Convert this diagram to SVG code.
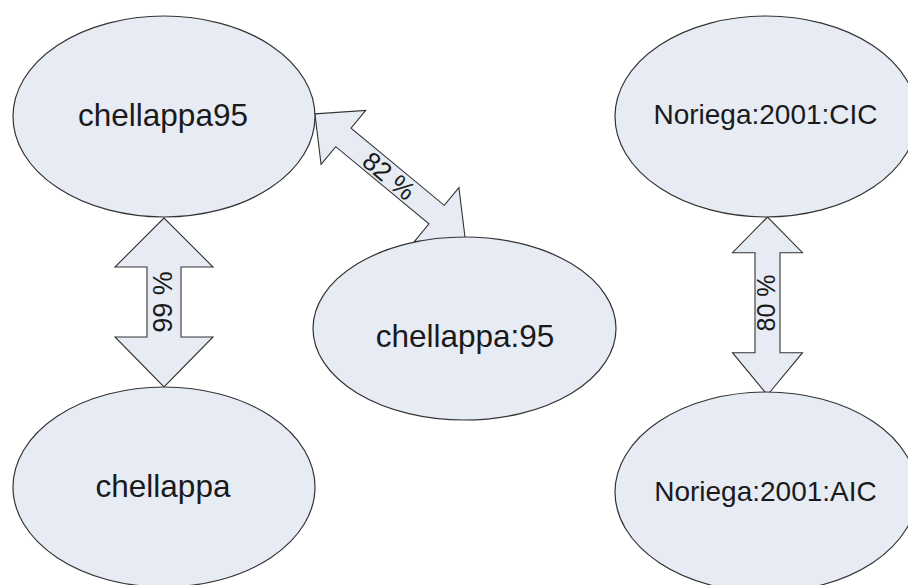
<svg xmlns="http://www.w3.org/2000/svg" width="908" height="585" viewBox="0 0 908 585">
<style>
.node{fill:#e6ebf4;stroke:#333;stroke-width:1.2}
.arrow{fill:#e6ebf4;stroke:#333;stroke-width:1.1;stroke-linejoin:miter}
.lbl{font-family:"Liberation Sans",Arial,sans-serif;fill:#1a1a1a;text-anchor:middle}
.big{font-size:31.5px}
.nor{font-size:28px}
.pct{font-size:26px}
</style>
<rect width="908" height="585" fill="#ffffff"/>
<g id="connectors">
<g id="c-99">
<polygon class="arrow" points="164,218 115,267 147,267 147,337 115,337 164,387 213,337 181,337 181,267 213,267"/>
<text class="lbl" style="font-size:27px" transform="translate(163,302) rotate(-90)" x="0" y="9">99 %</text>
</g>
<g id="c-82">
<polygon class="arrow" transform="translate(390,176) rotate(39.6)" points="-97.5,0 -60.5,-35 -60.5,-12 60.5,-12 60.5,-35 97.5,0 60.5,35 60.5,12 -60.5,12 -60.5,35"/>
<text class="lbl pct" transform="translate(389,176) rotate(39.6)" x="0" y="9">82 %</text>
</g>
<g id="c-80">
<polygon class="arrow" points="767.5,217 732.5,252.7 755,252.7 755,352.7 732.5,352.7 767.5,395 802.5,352.7 780,352.7 780,252.7 802.5,252.7"/>
<text class="lbl" style="font-size:25px" transform="translate(766,303) rotate(-90)" x="0" y="9">80 %</text>
</g>
</g>
<g id="n-chellappa95">
<ellipse class="node" cx="164" cy="116.5" rx="151" ry="100.5"/>
<text class="lbl big" x="163" y="126">chellappa95</text>
</g>
<g id="n-chellappa">
<ellipse class="node" cx="164" cy="487" rx="151" ry="100"/>
<text class="lbl big" x="163" y="497">chellappa</text>
</g>
<g id="n-chellappa-95">
<ellipse class="node" cx="464.5" cy="328.5" rx="151.5" ry="91.5"/>
<text class="lbl big" x="465" y="347">chellappa:95</text>
</g>
<g id="n-noriega-cic">
<ellipse class="node" cx="766" cy="116.5" rx="151" ry="100.5"/>
<text class="lbl nor" x="765.5" y="124">Noriega:2001:CIC</text>
</g>
<g id="n-noriega-aic">
<ellipse class="node" cx="766" cy="492" rx="151" ry="100"/>
<text class="lbl nor" x="765.5" y="501">Noriega:2001:AIC</text>
</g>
</svg>
